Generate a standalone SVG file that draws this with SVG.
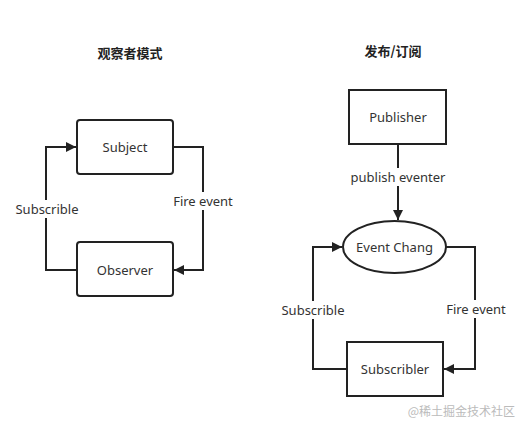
<svg xmlns="http://www.w3.org/2000/svg" width="521" height="421" viewBox="0 0 521 421">
<defs>
<style>
.box{fill:#fff;stroke:#222;stroke-width:2}
.ln{fill:none;stroke:#222;stroke-width:2}
.t{font-family:"Noto Sans","Noto Sans CJK SC",sans-serif;font-size:13px;fill:#333;text-anchor:middle;dominant-baseline:central}
.ttl{font-family:"Noto Sans CJK SC","Noto Sans",sans-serif;font-size:13px;font-weight:bold;fill:#222;text-anchor:middle;dominant-baseline:central}
.lb{fill:#fff}
</style>
<marker id="ah" viewBox="0 0 10 10" refX="10" refY="5" markerWidth="10" markerHeight="10" markerUnits="userSpaceOnUse" orient="auto">
<path d="M0,0 L10,5 L0,10 Z" fill="#222"/>
</marker>
</defs>
<rect width="521" height="421" fill="#fff"/>
<text class="ttl" x="130" y="52">观察者模式</text>
<text class="ttl" x="393" y="50">发布/订阅</text>
<g id="connectors">
<path class="ln" d="M77,270 H46 V147 H76" marker-end="url(#ah)"/>
<path class="ln" d="M173,147 H203 V270 H174" marker-end="url(#ah)"/>
<path class="ln" d="M398,144 V220" marker-end="url(#ah)"/>
<path class="ln" d="M347,369 H313 V247 H342" marker-end="url(#ah)"/>
<path class="ln" d="M446,247 H475 V369 H444" marker-end="url(#ah)"/>
<rect class="lb" x="12" y="200" width="70" height="18"/>
<text class="t" x="47" y="209">Subscrible</text>
<rect class="lb" x="170" y="192" width="66" height="18"/>
<text class="t" x="203" y="201">Fire event</text>
<rect class="lb" x="348" y="168" width="100" height="18"/>
<text class="t" x="398" y="177">publish eventer</text>
<rect class="lb" x="279" y="301" width="68" height="18"/>
<text class="t" x="313" y="310">Subscrible</text>
<rect class="lb" x="443" y="300" width="66" height="18"/>
<text class="t" x="476" y="309">Fire event</text>
</g>
<g id="subject">
<rect class="box" x="77" y="120" width="96" height="54" rx="3"/>
<text class="t" x="125" y="147">Subject</text>
</g>
<g id="observer">
<rect class="box" x="77" y="242" width="96" height="54" rx="3"/>
<text class="t" x="125" y="270">Observer</text>
</g>
<g id="publisher">
<rect class="box" x="349" y="90" width="97" height="54"/>
<text class="t" x="398" y="117">Publisher</text>
</g>
<g id="eventchang">
<ellipse class="box" cx="394.5" cy="247" rx="51.5" ry="26"/>
<text class="t" x="394.5" y="247">Event Chang</text>
</g>
<g id="subscribler">
<rect class="box" x="347" y="342" width="96" height="54"/>
<text class="t" x="395" y="369">Subscribler</text>
</g>
<text x="515" y="410" font-family="'Noto Sans CJK SC',sans-serif" font-size="12" fill="#bbb" text-anchor="end" dominant-baseline="central">@稀土掘金技术社区</text>
</svg>
